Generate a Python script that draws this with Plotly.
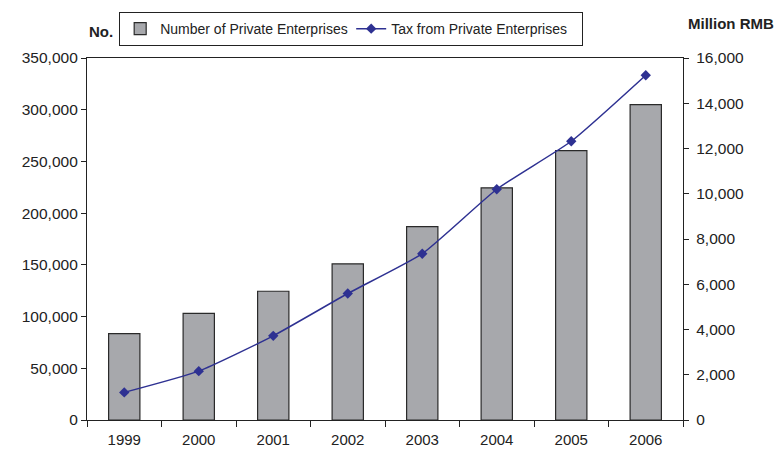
import plotly.graph_objects as go

years = ["1999", "2000", "2001", "2002", "2003", "2004", "2005", "2006"]
enterprises = [83500, 103000, 124500, 151000, 187000, 224500, 260500, 305000]
tax_million_rmb = [1220, 2160, 3720, 5590, 7350, 10200, 12320, 15240]

font_family = "Liberation Sans, Arial, sans-serif"
text_color = "#222222"

fig = go.Figure()

fig.add_trace(go.Bar(
    x=years,
    y=enterprises,
    name="Number of Private Enterprises",
    marker=dict(color="#a7a8ac", line=dict(color="#2a2a2a", width=1.2)),
    width=0.42,
    yaxis="y",
))

fig.add_trace(go.Scatter(
    x=years,
    y=tax_million_rmb,
    name="Tax from Private Enterprises",
    mode="lines+markers",
    line=dict(color="#2e3192", width=1.5, shape="spline", smoothing=0.5),
    marker=dict(symbol="diamond", size=8, color="#2e3192"),
    yaxis="y2",
))

axis_line = dict(showline=True, linecolor="#222222", linewidth=1.3)

fig.update_layout(
    width=779,
    height=452,
    margin=dict(l=87, r=96, t=50, b=32),
    paper_bgcolor="white",
    plot_bgcolor="white",
    font=dict(family=font_family, size=15, color=text_color),
    bargap=0.58,
    showlegend=True,
    legend=dict(
        orientation="h",
        x=0.054, xanchor="left",
        y=1.127, yanchor="top",
        bordercolor="#222222", borderwidth=1,
        bgcolor="white",
        font=dict(size=14),
        itemwidth=30,
        entrywidth=186,
        entrywidthmode="pixels",
        tracegroupgap=0,
    ),
    xaxis=dict(
        type="category",
        ticks="outside", ticklen=6, tickcolor="#222222",
        tickson="boundaries",
        ticklabelstandoff=6,
        automargin=False,
        mirror=True,
        showgrid=False,
        tickfont=dict(size=15),
        **axis_line,
    ),
    yaxis=dict(
        range=[0, 350000],
        dtick=50000,
        tickformat=",",
        ticks="outside", ticklen=5, tickcolor="#222222",
        automargin=False,
        showgrid=False,
        zeroline=False,
        tickfont=dict(size=15.5),
        **axis_line,
    ),
    yaxis2=dict(
        overlaying="y",
        side="right",
        range=[0, 16000],
        dtick=2000,
        tickformat=",",
        ticks="outside", ticklen=5, tickcolor="#222222",
        ticklabelstandoff=4,
        automargin=False,
        showgrid=False,
        zeroline=False,
        tickfont=dict(size=15.5),
        **axis_line,
    ),
    annotations=[
        dict(text="<b>No.</b>", xref="paper", yref="paper",
             x=0.0, y=1.045, xanchor="left", yanchor="bottom",
             showarrow=False, font=dict(size=15, color=text_color)),
        dict(text="<b>Million RMB</b>", xref="paper", yref="paper",
             x=(776 - 87) / 596, y=1.065, xanchor="right", yanchor="bottom",
             showarrow=False, font=dict(size=15, color=text_color)),
    ],
)

fig.write_html("out.html")
